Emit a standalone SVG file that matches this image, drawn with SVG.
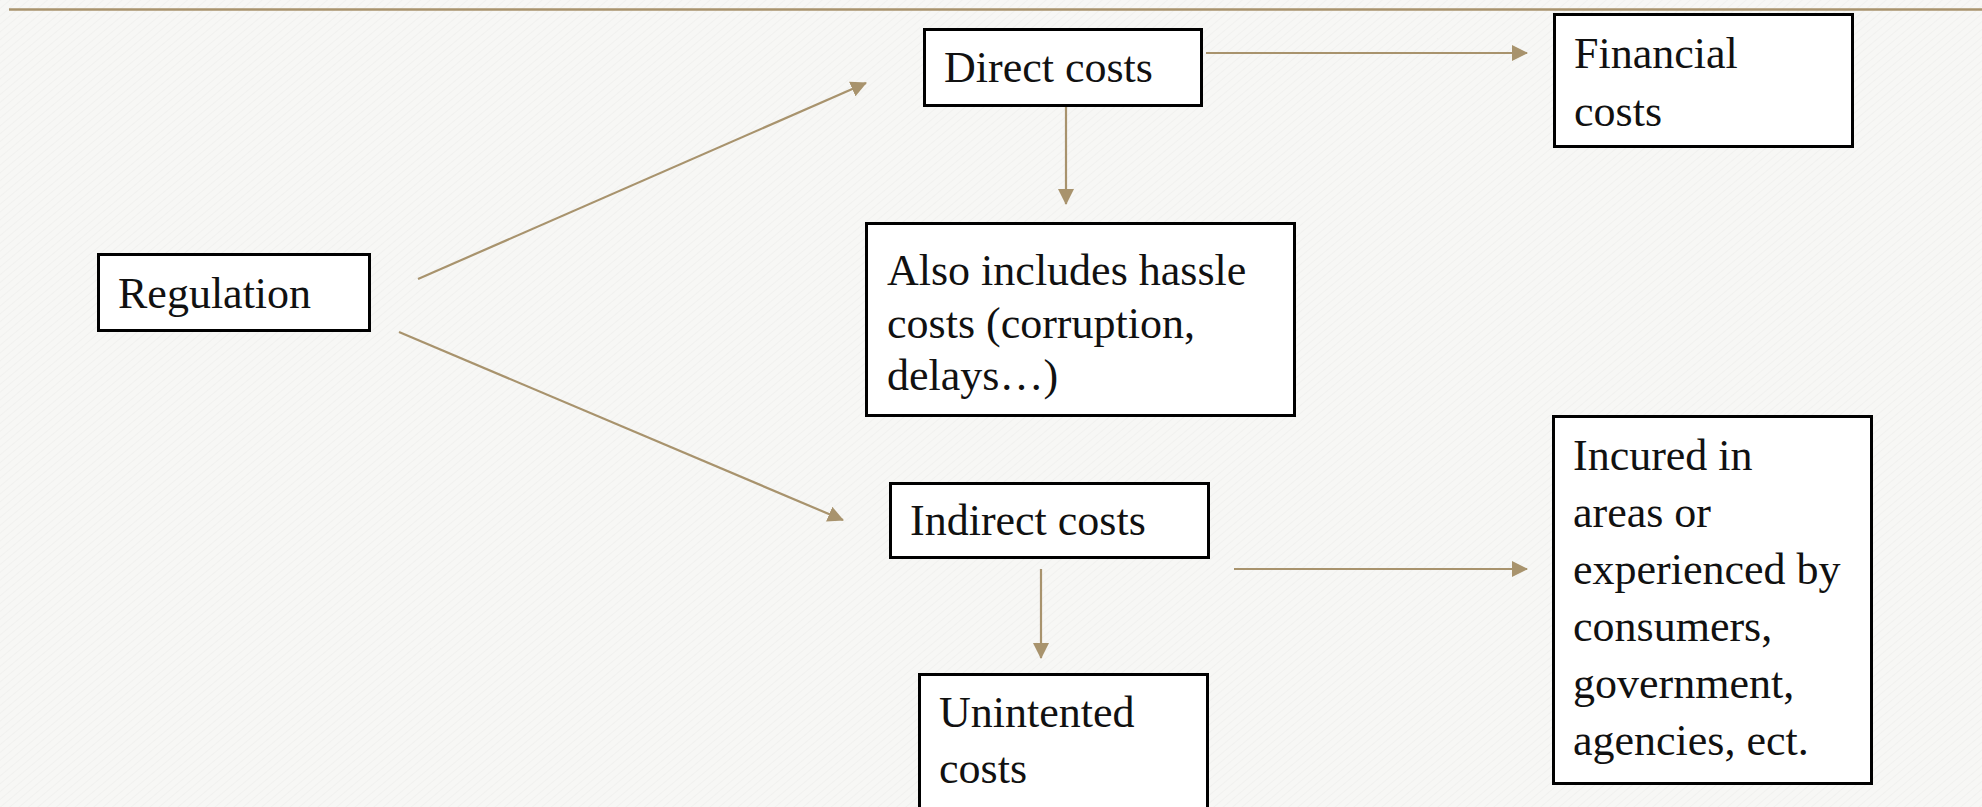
<svg xmlns="http://www.w3.org/2000/svg" width="1982" height="807" viewBox="0 0 1982 807">
  <defs>
    <style>
      .box { fill: #ffffff; stroke: #000000; stroke-width: 3; }
      .label { font-family: "Liberation Serif", "DejaVu Serif", serif; font-size: 44px; fill: #111111; }
      .link { stroke: #a8936d; stroke-width: 2.2; fill: none; marker-end: url(#arrow); }
      .rule { stroke: #a8936d; stroke-width: 2.6; }
    </style>
    <marker id="arrow" markerUnits="userSpaceOnUse" markerWidth="16" markerHeight="16" viewBox="0 0 16 16" refX="15" refY="8" orient="auto">
      <path d="M0,0 L16,8 L0,16 Z" fill="#a8936d"/>
    </marker>
    <pattern id="grain" width="6" height="6" patternUnits="userSpaceOnUse" patternTransform="rotate(-40)">
      <rect width="6" height="6" fill="#f7f7f5"/>
      <line x1="0" y1="0" x2="6" y2="0" stroke="#ecece9" stroke-width="1"/>
    </pattern>
  </defs>

  <!-- paper background and header rule -->
  <rect width="1982" height="807" fill="url(#grain)"/>
  <line class="rule" x1="9" y1="9.5" x2="1982" y2="9.5"/>

  <!-- connectors -->
  <g id="connectors">
    <line class="link" x1="418" y1="279" x2="866" y2="83"/>
    <line class="link" x1="399" y1="332" x2="843" y2="520"/>
    <line class="link" x1="1206" y1="53" x2="1527" y2="53"/>
    <line class="link" x1="1066" y1="106" x2="1066" y2="204"/>
    <line class="link" x1="1041" y1="569" x2="1041" y2="658"/>
    <line class="link" x1="1234" y1="569" x2="1527" y2="569"/>
  </g>

  <g id="regulation">
    <rect class="box" x="98.5" y="254.5" width="271" height="76"/>
    <text class="label" x="118" y="308">Regulation</text>
  </g>

  <g id="direct-costs">
    <rect class="box" x="924.5" y="29.5" width="277" height="76"/>
    <text class="label" x="944" y="82">Direct costs</text>
  </g>

  <g id="financial-costs">
    <rect class="box" x="1554.5" y="14.5" width="298" height="132"/>
    <text class="label" x="1574" y="68">Financial</text>
    <text class="label" x="1574" y="126">costs</text>
  </g>

  <g id="hassle-costs">
    <rect class="box" x="866.5" y="223.5" width="428" height="192"/>
    <text class="label" x="887" y="285">Also includes hassle</text>
    <text class="label" x="887" y="338">costs (corruption,</text>
    <text class="label" x="887" y="390">delays…)</text>
  </g>

  <g id="indirect-costs">
    <rect class="box" x="890.5" y="483.5" width="318" height="74"/>
    <text class="label" x="910" y="535">Indirect costs</text>
  </g>

  <g id="unintended-costs">
    <rect class="box" x="919.5" y="674.5" width="288" height="150"/>
    <text class="label" x="939" y="727">Unintented</text>
    <text class="label" x="939" y="783">costs</text>
  </g>

  <g id="incurred-costs">
    <rect class="box" x="1553.5" y="416.5" width="318" height="367"/>
    <text class="label" x="1573" y="470">Incured in</text>
    <text class="label" x="1573" y="527">areas or</text>
    <text class="label" x="1573" y="584">experienced by</text>
    <text class="label" x="1573" y="641">consumers,</text>
    <text class="label" x="1573" y="698">government,</text>
    <text class="label" x="1573" y="755">agencies, ect.</text>
  </g>
</svg>
